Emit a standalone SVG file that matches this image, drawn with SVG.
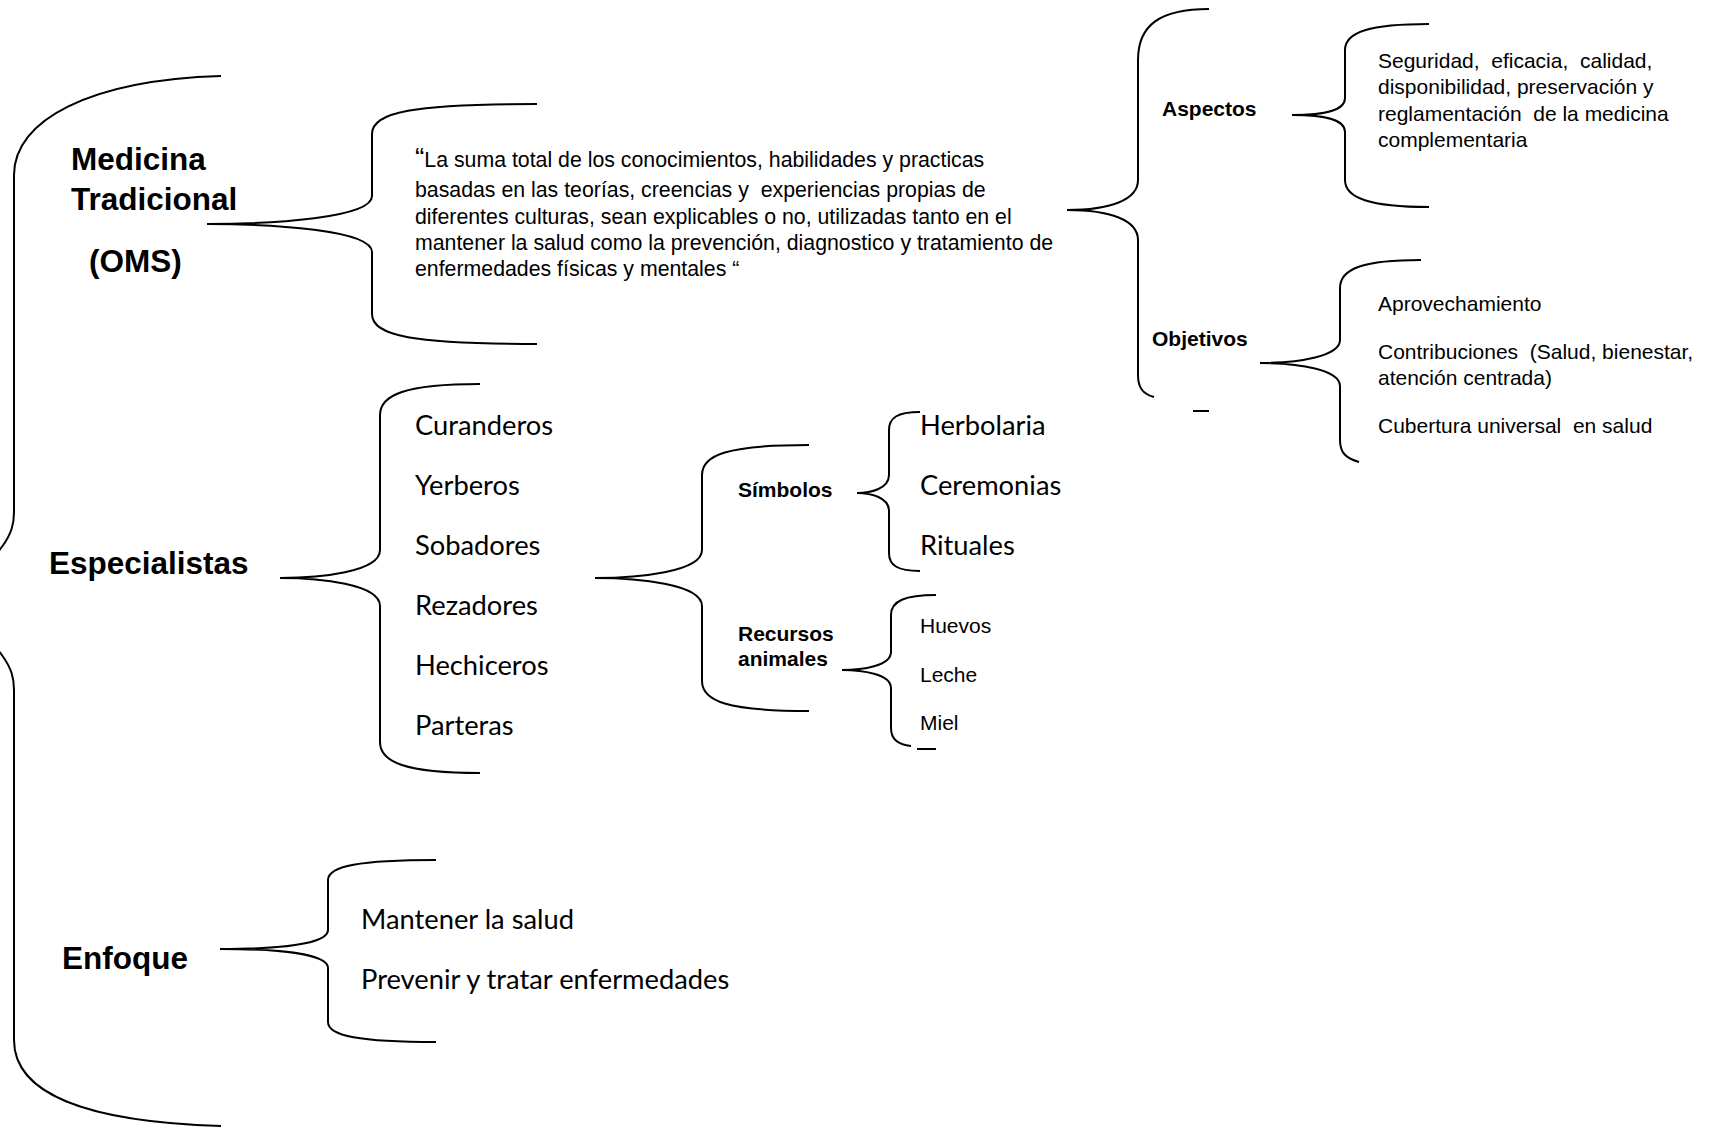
<svg xmlns="http://www.w3.org/2000/svg" width="1711" height="1135" viewBox="0 0 1711 1135" xml:space="preserve">
<style>
text{white-space:pre}
.br{fill:none;stroke:#000;stroke-width:2}
.big{font-family:"Liberation Sans",Arial,sans-serif;font-weight:bold;font-size:31.5px;fill:#000}
.lab{font-family:"Liberation Sans",Arial,sans-serif;font-weight:bold;font-size:21px;fill:#000}
.sm{font-family:"Liberation Sans",Arial,sans-serif;font-size:21px;fill:#000}
.q{font-family:"Liberation Sans",Arial,sans-serif;font-size:21.3px;fill:#000}
.cal{font-family:Lato,"Open Sans",sans-serif;font-size:27.3px;fill:#000}
</style>
<rect width="1711" height="1135" fill="#fff"/>
<g id="connectors">
<path class="br" d="M221,76 C90,80 14,120 14,175 L14,512 C14,535 5,552 -55,601 C5,650 14,667 14,690 L14,1040 C14,1095 90,1122 221,1126"/>
<path class="br" d="M537,104 C413,104 372,112 372,134 L372,196 C372,218 273,224 207,224 C273,224 372,230 372,252 L372,314 C372,336 413,344 537,344"/>
<path class="br" d="M480,384 C405,384 380,395 380,415 L380,550 C380,572 320,578 280,578 C320,578 380,584 380,606 L380,742 C380,762 405,773 480,773"/>
<path class="br" d="M809,445 C727,445 702,455 702,475 L702,550 C702,572 638,578 595,578 C638,578 702,584 702,606 L702,681 C702,701 727,711 809,711"/>
<path class="br" d="M920,412 C897,412 889,418 889,430 L889,475 C889,489 870,493 857,493 C870,493 889,497 889,511 L889,553 C889,565 897,571 920,571"/>
<path class="br" d="M936,595 C905,595 891,601 891,615 L891,652 C891,666 862,670 842,670 C862,670 891,674 891,688 L891,728 C891,740 900,745 911,746"/>
<path class="br" d="M917,749 L936,749"/>
<path class="br" d="M1209,9 C1160,9 1138,25 1138,60 L1138,180 C1138,200 1110,210 1067,210 C1110,210 1138,220 1138,240 L1138,375 C1138,388 1143,394 1154,397"/>
<path class="br" d="M1193,411 L1209,411"/>
<path class="br" d="M1429,24 C1370,24 1345,32 1345,50 L1345,98 C1345,112 1320,115 1292,115 C1320,115 1345,118 1345,132 L1345,180 C1345,198 1370,207 1429,207"/>
<path class="br" d="M1421,260 C1365,260 1340,268 1340,288 L1340,340 C1340,356 1300,363 1260,363 C1300,363 1340,370 1340,386 L1340,440 C1340,452 1345,458 1359,462"/>
<path class="br" d="M436,860 C360,860 328,866 328,880 L328,930 C328,944 280,949 220,949 C280,949 328,954 328,968 L328,1022 C328,1036 360,1042 436,1042"/>
</g>
<g id="medicina">
<text class="big" x="71" y="170">Medicina</text>
<text class="big" x="71" y="210">Tradicional</text>
<text class="big" x="89" y="272">(OMS)</text>
</g>
<g id="definicion">
<text class="q" x="415" y="167"><tspan font-size="28">“</tspan>La suma total de los conocimientos, habilidades y practicas</text>
<text class="q" x="415" y="197">basadas en las teorías, creencias y  experiencias propias de</text>
<text class="q" x="415" y="224">diferentes culturas, sean explicables o no, utilizadas tanto en el</text>
<text class="q" x="415" y="250">mantener la salud como la prevención, diagnostico y tratamiento de</text>
<text class="q" x="415" y="276">enfermedades físicas y mentales “</text>
</g>
<g id="aspectos">
<text class="lab" x="1162" y="116">Aspectos</text>
</g>
<g id="aspectos-items">
<text class="sm" x="1378" y="68">Seguridad,  eficacia,  calidad,</text>
<text class="sm" x="1378" y="94">disponibilidad, preservación y</text>
<text class="sm" x="1378" y="121">reglamentación  de la medicina</text>
<text class="sm" x="1378" y="147">complementaria</text>
</g>
<g id="objetivos">
<text class="lab" x="1152" y="346">Objetivos</text>
</g>
<g id="objetivos-items">
<text class="sm" x="1378" y="311">Aprovechamiento</text>
<text class="sm" x="1378" y="359">Contribuciones  (Salud, bienestar,</text>
<text class="sm" x="1378" y="385">atención centrada)</text>
<text class="sm" x="1378" y="433">Cubertura universal  en salud</text>
</g>
<g id="especialistas">
<text class="big" x="49" y="574">Especialistas</text>
</g>
<g id="especialistas-items">
<text class="cal" x="415" y="435">Curanderos</text>
<text class="cal" x="415" y="495">Yerberos</text>
<text class="cal" x="415" y="555">Sobadores</text>
<text class="cal" x="415" y="615">Rezadores</text>
<text class="cal" x="415" y="675">Hechiceros</text>
<text class="cal" x="415" y="735">Parteras</text>
</g>
<g id="simbolos">
<text class="lab" x="738" y="497">Símbolos</text>
</g>
<g id="simbolos-items">
<text class="cal" x="920" y="435">Herbolaria</text>
<text class="cal" x="920" y="495">Ceremonias</text>
<text class="cal" x="920" y="555">Rituales</text>
</g>
<g id="recursos">
<text class="lab" x="738" y="641">Recursos</text>
<text class="lab" x="738" y="666">animales</text>
</g>
<g id="recursos-items">
<text class="sm" x="920" y="633">Huevos</text>
<text class="sm" x="920" y="682">Leche</text>
<text class="sm" x="920" y="730">Miel</text>
</g>
<g id="enfoque">
<text class="big" x="62" y="969">Enfoque</text>
</g>
<g id="enfoque-items">
<text class="cal" x="361" y="929">Mantener la salud</text>
<text class="cal" x="361" y="989">Prevenir y tratar enfermedades</text>
</g>
</svg>
